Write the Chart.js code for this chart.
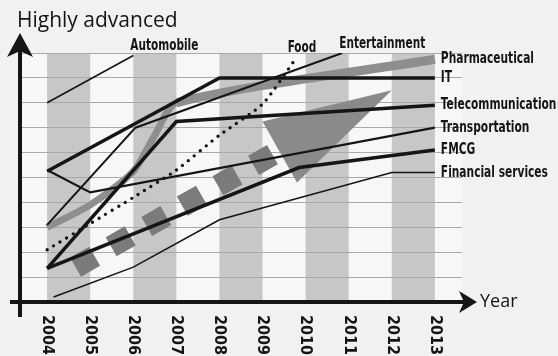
<!DOCTYPE html>
<html>
<head>
<meta charset="utf-8">
<script src="https://cdn.jsdelivr.net/npm/chart.js@4.4.1/dist/chart.umd.min.js"></script>
<style>
  html, body { margin: 0; padding: 0; background: #f1f1f1; }
  canvas { display: block; }
</style>
</head>
<body>
<canvas id="graphTrend" width="558" height="356"></canvas>
<script>
const years = [2004, 2005, 2006, 2007, 2008, 2009, 2010, 2011, 2012, 2013]
const bandYears = [2004, 2006, 2008, 2010, 2012]

// [year, level] pairs
const pharmaceutical = [[2004, 3.0], [2005, 3.9], [2006, 5.25], [2006.5, 6.7], [2007, 8.0], [2013, 9.75]]
const it = [[2004, 5.25], [2008, 9.0], [2013, 9.0]]
const telecommunication = [[2004, 1.35], [2007, 7.25], [2013, 7.9]]
const transportation = [[2004, 5.3], [2005, 4.4], [2013, 7.0]]
const fmcg = [[2004, 1.35], [2009.85, 5.4], [2013, 6.1]]
const financialServices = [[2004.15, 0.2], [2006, 1.4], [2008, 3.3], [2012, 5.2], [2013, 5.2]]
const automobile = [[2004, 8.0], [2006, 9.9]]
const food = [[2004, 2.1], [2005, 3.15], [2006, 4.2], [2007, 5.3], [2008, 6.7], [2009, 7.95], [2009.8, 9.85]]
const entertainment = [[2004, 3.1], [2006.05, 7.0], [2010.85, 10.0]]
const trendShaft = [[2004.66, 1.4], [2009.23, 5.92]]
const trendHead = [[2009.0, 7.25], [2012.0, 8.5], [2009.8, 4.8]]

const yTitle = 'Highly advanced'
const xTitle = 'Year'

const ink = '#151515'
const boldFace = '"DejaVu Sans Condensed", "DejaVu Sans", sans-serif'

function toPoints(pairs){
    return pairs.map(p => ({x: p[0], y: p[1]}))
}

function line(label, pairs, width, place){
    return {
        label: label,
        data: toPoints(pairs),
        borderColor: ink,
        borderWidth: width,
        pointRadius: 0,
        fill: false,
        tension: 0,
        labelPlace: place
    }
}

// squeezed text, the book uses a condensed bold face
function narrowText(ctx, text, x, y, squeeze){
    ctx.save()
    ctx.translate(x, y)
    ctx.scale(squeeze, 1)
    ctx.fillText(text, 0, 0)
    ctx.restore()
}

// gray columns behind the plot
const bandsPlugin = {
    id: 'bands',
    beforeDraw(chart){
        const {ctx, chartArea, scales} = chart
        ctx.save()
        ctx.fillStyle = '#f7f7f7'
        ctx.fillRect(chartArea.left, chartArea.top, chartArea.width, chartArea.height)
        ctx.fillStyle = '#c7c7c7'
        bandYears.forEach(y => {
            const x1 = scales.x.getPixelForValue(y)
            const x2 = scales.x.getPixelForValue(y + 1)
            ctx.fillRect(x1, chartArea.top, x2 - x1, chartArea.height)
        })
        ctx.restore()
    }
}

// thick axes with arrow heads
const axesPlugin = {
    id: 'axes',
    afterDatasetsDraw(chart){
        const {ctx, chartArea} = chart
        const left = chartArea.left
        const bottom = chartArea.bottom
        ctx.save()
        ctx.strokeStyle = ink
        ctx.fillStyle = ink
        ctx.lineWidth = 4
        ctx.beginPath()
        ctx.moveTo(left, bottom + 15)
        ctx.lineTo(left, chartArea.top - 8)
        ctx.moveTo(left - 10, bottom)
        ctx.lineTo(chartArea.right + 4, bottom)
        ctx.stroke()

        const tipY = chartArea.top - 20
        ctx.beginPath()
        ctx.moveTo(left, tipY)
        ctx.lineTo(left + 13, tipY + 24)
        ctx.lineTo(left, tipY + 18)
        ctx.lineTo(left - 13, tipY + 24)
        ctx.closePath()
        ctx.fill()

        const tipX = chartArea.right + 15
        ctx.beginPath()
        ctx.moveTo(tipX, bottom)
        ctx.lineTo(tipX - 18, bottom - 11)
        ctx.lineTo(tipX - 13, bottom)
        ctx.lineTo(tipX - 18, bottom + 11)
        ctx.closePath()
        ctx.fill()
        ctx.restore()
    }
}

// titles, year ticks and the series names at line ends
const textPlugin = {
    id: 'texts',
    afterDraw(chart){
        const {ctx, chartArea, scales} = chart
        ctx.save()
        ctx.fillStyle = ink

        ctx.font = '21px "Open Sans", sans-serif'
        ctx.textAlign = 'left'
        ctx.textBaseline = 'alphabetic'
        ctx.fillText(yTitle, 17, 27)

        ctx.font = '18px "Open Sans", sans-serif'
        ctx.textBaseline = 'middle'
        ctx.fillText(xTitle, chartArea.right + 18, chartArea.bottom)

        ctx.font = 'bold 16px ' + boldFace
        years.forEach(y => {
            const x = scales.x.getPixelForValue(y)
            ctx.save()
            ctx.translate(x, chartArea.bottom + 13)
            ctx.rotate(Math.PI / 2)
            ctx.textAlign = 'left'
            ctx.textBaseline = 'middle'
            ctx.fillText(String(y), 0, 0)
            ctx.restore()
        })

        chart.data.datasets.forEach((ds, i) => {
            if(!ds.labelPlace) return
            const pts = chart.getDatasetMeta(i).data
            const end = pts[pts.length - 1]
            if(ds.labelPlace === 'right'){
                ctx.font = 'bold 16px ' + boldFace
                ctx.textAlign = 'left'
                ctx.textBaseline = 'middle'
                narrowText(ctx, ds.label, end.x + 6, end.y, 0.74)
            } else {
                ctx.font = 'bold 15px ' + boldFace
                ctx.textAlign = ds.labelPlace === 'center' ? 'center' : 'left'
                ctx.textBaseline = 'alphabetic'
                const dx = ds.labelPlace === 'center' ? 5 : -3
                narrowText(ctx, ds.label, end.x + dx, end.y - 5, 0.78)
            }
        })
        ctx.restore()
    }
}

const pharmaLast = pharmaceutical.length - 1

const datasets = [
    line('IT', it, 3.5, 'right'),
    line('Telecommunication', telecommunication, 3.5, 'right'),
    line('FMCG', fmcg, 3.5, 'right'),
    line('Transportation', transportation, 2.2, 'right'),
    line('Financial services', financialServices, 1.6, 'right'),
    line('Entertainment', entertainment, 2, 'left'),
    line('Automobile', automobile, 1.6, 'left'),
    {
        label: 'Food',
        data: toPoints(food),
        borderColor: ink,
        borderWidth: 3.4,
        borderDash: [0, 7.6],
        borderCapStyle: 'round',
        pointRadius: 0,
        fill: false,
        tension: 0.2,
        labelPlace: 'center'
    },
    {
        label: 'Pharmaceutical',
        data: toPoints(pharmaceutical),
        borderColor: '#8e8e8e',
        borderWidth: 7,
        segment: {
            borderWidth: c => c.p1DataIndex === pharmaLast ? 9 : 7
        },
        pointRadius: 0,
        fill: false,
        tension: 0.25,
        labelPlace: 'right'
    },
    {
        label: 'trend',
        data: toPoints(trendShaft),
        borderColor: '#7b7b7b',
        borderWidth: 22,
        borderDash: [22, 19],
        borderCapStyle: 'butt',
        pointRadius: 0,
        fill: false
    },
    {
        label: 'trend head',
        data: toPoints(trendHead),
        borderColor: '#8a8a8a',
        borderWidth: 0,
        backgroundColor: '#8a8a8a',
        pointRadius: 0,
        fill: 'shape'
    }
]

new Chart(document.getElementById('graphTrend'), {
    type: 'line',
    data: { datasets: datasets },
    options: {
        responsive: false,
        animation: false,
        events: [],
        layout: { padding: { left: 20, right: 96, top: 53, bottom: 54 } },
        plugins: {
            legend: { display: false },
            tooltip: { enabled: false }
        },
        scales: {
            x: {
                type: 'linear',
                display: false,
                min: 2003.37,
                max: 2013.63
            },
            y: {
                type: 'linear',
                min: 0,
                max: 10,
                ticks: { display: false, stepSize: 1 },
                grid: { color: '#a9a9a9', lineWidth: 1, drawTicks: false },
                border: { display: false }
            }
        }
    },
    plugins: [bandsPlugin, axesPlugin, textPlugin]
})
</script>
</body>
</html>
